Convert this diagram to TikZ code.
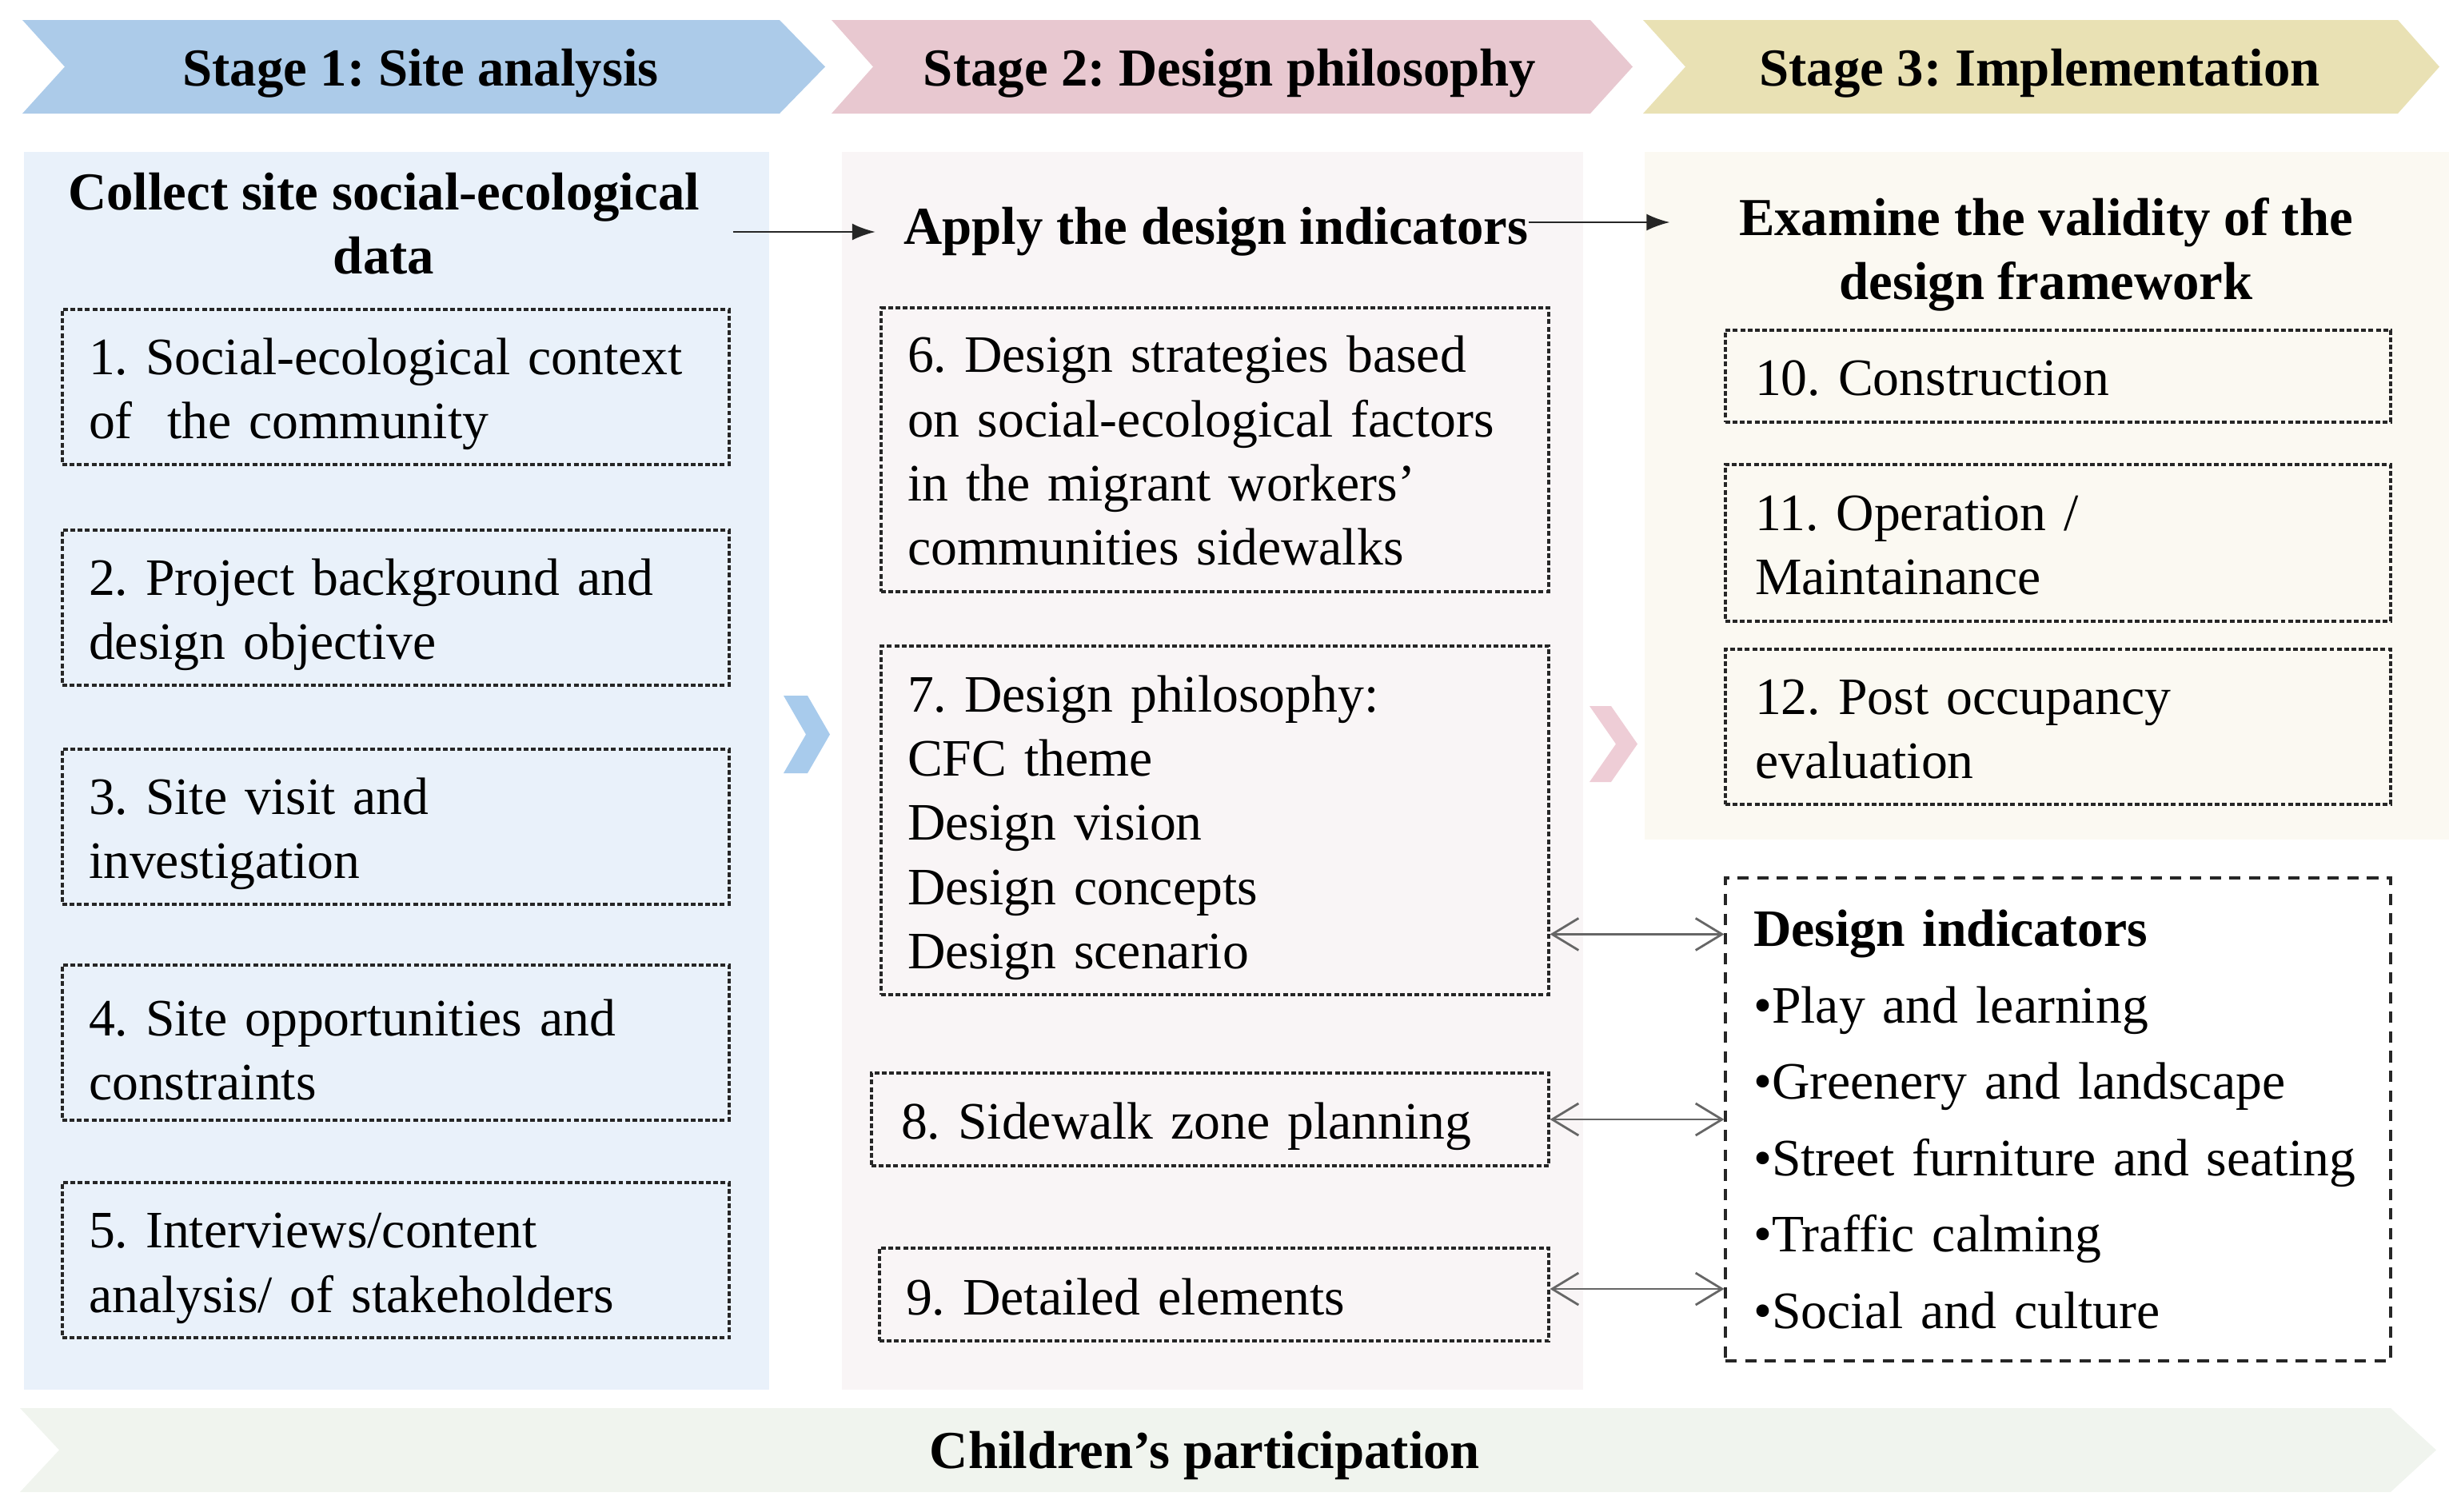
\documentclass[tikz,border=0pt]{standalone}
\usepackage{fontspec}
\setmainfont{Liberation Serif}
\usetikzlibrary{arrows.meta,calc}
\frenchspacing
\hyphenpenalty=10000
\exhyphenpenalty=10000
\definecolor{headA}{RGB}{172,203,233}
\definecolor{headB}{RGB}{232,200,208}
\definecolor{headC}{RGB}{233,225,180}
\definecolor{bgA}{RGB}{233,241,250}
\definecolor{bgB}{RGB}{249,245,246}
\definecolor{bgC}{RGB}{251,249,242}
\definecolor{bgD}{RGB}{240,244,238}
\definecolor{chevA}{RGB}{168,203,236}
\definecolor{chevB}{RGB}{238,205,214}
\begin{document}
\begin{tikzpicture}[
  txt/.style={font=\fontsize{18.7}{22.8}\selectfont\frenchspacing},
  btxt/.style={font=\fontsize{19}{22.8}\selectfont\bfseries\frenchspacing},
  box/.style={rectangle, draw=black!85, line width=0.9pt, dash pattern=on 1.7pt off 0.9pt,
     inner xsep=0.35cm, inner ysep=0pt, align=left, txt,
     execute at begin node={\rule{0pt}{#1}}},
  box/.default=0.64cm,
  dibox/.style={rectangle, draw=black!85, line width=0.9pt, dash pattern=on 4pt off 3pt,
     inner xsep=0.37cm, inner ysep=0pt, align=left, font=\fontsize{18.7}{27.2}\selectfont\frenchspacing},
  arr/.style={-{Latex[length=2.9mm,width=2.1mm]}, line width=0.7pt, black!85},
  darr/.style={{Straight Barb[length=3.3mm,width=4mm]}-{Straight Barb[length=3.3mm,width=4mm]}, line width=0.8pt, black!60}
]
\useasboundingbox (0,0) rectangle (30.68,-18.90);

% column backgrounds
\fill[bgA] (0.30,-1.90) rectangle (9.62,-17.38);
\fill[bgB] (10.53,-1.90) rectangle (19.80,-17.38);
\fill[bgC] (20.57,-1.90) rectangle (30.63,-10.50);

% header arrows
\fill[headA] (0.28,-0.25) -- (9.75,-0.25) -- (10.32,-0.835) -- (9.75,-1.42) -- (0.28,-1.42) -- (0.81,-0.835) -- cycle;
\fill[headB] (10.40,-0.25) -- (19.89,-0.25) -- (20.42,-0.835) -- (19.89,-1.42) -- (10.40,-1.42) -- (10.92,-0.835) -- cycle;
\fill[headC] (20.55,-0.25) -- (29.99,-0.25) -- (30.51,-0.835) -- (29.99,-1.42) -- (20.55,-1.42) -- (21.08,-0.835) -- cycle;
\node[btxt] (h1) at (5.26,-0.92) {Stage 1: Site analysis};
\node[btxt] (h2) at (15.38,-0.92) {Stage 2: Design philosophy};
\node[btxt] (h3) at (25.51,-0.92) {Stage 3: Implementation};

% bottom banner
\fill[bgD] (0.25,-17.61) -- (29.90,-17.61) -- (30.47,-18.135) -- (29.90,-18.66) -- (0.25,-18.66) -- (0.74,-18.135) -- cycle;
\node[btxt] (cp) at (15.07,-18.20) {Children’s participation};

% chevrons
\fill[chevA] (9.80,-8.70) -- (10.10,-8.70) -- (10.38,-9.185) -- (10.10,-9.67) -- (9.80,-9.67) -- (10.08,-9.185) -- cycle;
\fill[chevB] (19.88,-8.83) -- (20.15,-8.83) -- (20.48,-9.305) -- (20.15,-9.78) -- (19.88,-9.78) -- (20.21,-9.305) -- cycle;

% titles
\node[btxt, align=center, inner xsep=0.41cm] (t1) at (4.80,-2.80) {Collect site social-ecological\\data};
\node[btxt, inner xsep=0pt] (t2) at (15.21,-2.90) {Apply the design indicators};
\node[btxt, align=center, inner xsep=0.86cm] (t3) at (25.59,-3.18) {Examine the validity of the\\design framework};

\draw[arr] (t1.east |- t2.west) -- ([xshift=-0.35cm]t2.west);
\draw[arr] ([yshift=0.12cm]t2.east) -- ($(t2.east -| t3.west)+(0,0.12)$);

% column 1 boxes
\node[box, minimum width=8.34cm, minimum height=1.94cm, text width=7.68cm, inner xsep=0.33cm] (b1) at (4.95,-4.84)
  {1. Social-ecological context\\of~ the community};
\node[box, minimum width=8.34cm, minimum height=1.94cm, text width=7.68cm, inner xsep=0.33cm] (b2) at (4.95,-7.60)
  {2. Project background and\\design objective};
\node[box, minimum width=8.34cm, minimum height=1.94cm, text width=7.68cm, inner xsep=0.33cm] (b3) at (4.95,-10.34)
  {3. Site visit and\\investigation};
\node[box, minimum width=8.34cm, minimum height=1.94cm, text width=7.68cm, inner xsep=0.33cm] (b4) at (4.95,-13.04)
  {4. Site opportunities and\\constraints};
\node[box, minimum width=8.34cm, minimum height=1.94cm, text width=7.68cm, inner xsep=0.33cm] (b5) at (4.95,-15.76)
  {5. Interviews/content\\analysis/ of stakeholders};

% column 2 boxes
\node[box=0.48cm, minimum width=8.35cm, minimum height=3.55cm, text width=7.69cm, inner xsep=0.33cm] (b6) at (15.195,-5.625)
  {6. Design strategies based\\on social-ecological factors\\in the migrant workers’\\communities sidewalks};
\node[box, minimum width=8.35cm, minimum height=4.36cm, text width=7.69cm, inner xsep=0.33cm] (b7) at (15.195,-10.26)
  {7. Design philosophy:\\CFC theme\\Design vision\\Design concepts\\Design scenario};
\node[box, minimum width=8.47cm, minimum height=1.16cm, text width=7.73cm, inner xsep=0.37cm] (b8) at (15.135,-14.00)
  {8. Sidewalk zone planning};
\node[box=0.52cm, minimum width=8.37cm, minimum height=1.16cm, text width=7.71cm, inner xsep=0.33cm] (b9) at (15.185,-16.19)
  {9. Detailed elements};

% column 3 boxes
\node[box=0.48cm, minimum width=8.32cm, minimum height=1.15cm, text width=7.58cm, inner xsep=0.37cm] (b10) at (25.74,-4.705)
  {10. Construction};
\node[box=0.5cm, minimum width=8.32cm, minimum height=1.96cm, text width=7.58cm, inner xsep=0.37cm] (b11) at (25.74,-6.79)
  {11. Operation /\\Maintainance};
\node[box=0.5cm, minimum width=8.32cm, minimum height=1.94cm, text width=7.58cm, inner xsep=0.37cm] (b12) at (25.74,-9.09)
  {12. Post occupancy\\evaluation};

% design indicators
\node[dibox, minimum width=8.32cm, minimum height=6.04cm, text width=7.62cm, inner xsep=0.35cm] (di) at (25.74,-14.00)
  {\textbf{Design indicators}\\•Play and learning\\•Greenery and landscape\\\mbox{•Street furniture and seating}\\•Traffic calming\\•Social and culture};

\coordinate (a1) at ($(di.north west)+(0,-0.72)$);
\draw[darr] (b7.east |- a1) -- (a1);
\draw[darr] (b8.east) -- (b8.east -| di.west);
\draw[darr] ([yshift=0.07cm]b9.east) -- ([yshift=0.07cm]b9.east -| di.west);
\end{tikzpicture}
\end{document}
